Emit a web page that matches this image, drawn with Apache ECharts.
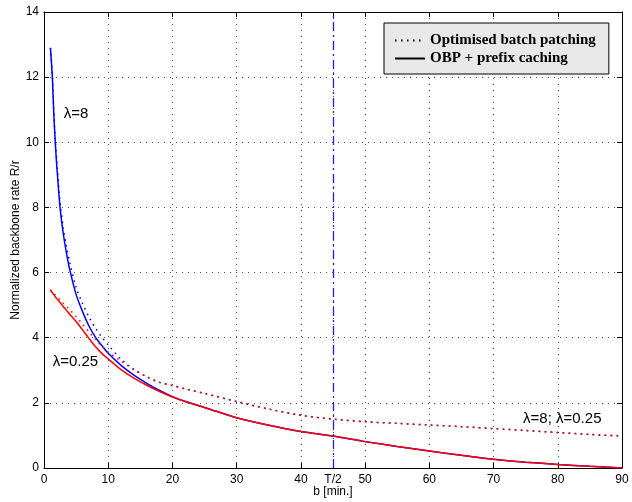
<!DOCTYPE html>
<html>
<head>
<meta charset="utf-8">
<script src="https://cdn.jsdelivr.net/npm/echarts@6/dist/echarts.min.js"></script>
<style>html,body{margin:0;padding:0;background:#fff;}#c{width:632px;height:502px;}</style>
</head>
<body>
<div id="c"></div>
<script>
// block sizes b [min.]
var bValues = [1,1.3,1.5,1.75,2,2.5,3,3.5,4,5,6,7,8,9,10,12,14,16,18,20,22,25,30,35,40,45,50,55,60,65,70,75,80,85,90];
// lambda = 8, OBP + prefix caching (solid blue)
var pcHigh  = [12.9,12.0,11.0,10.0,9.25,8.0,7.2,6.6,6.1,5.33,4.8,4.36,4.02,3.76,3.52,3.15,2.85,2.6,2.38,2.19,2.04,1.86,1.54,1.31,1.12,0.98,0.81,0.66,0.52,0.39,0.27,0.18,0.11,0.05,0];
// lambda = 8, optimised batch patching (dotted blue)
var obpHigh = [12.9,12.05,11.1,10.1,9.4,8.15,7.38,6.8,6.32,5.55,5.05,4.64,4.3,4.02,3.78,3.34,3.03,2.8,2.63,2.53,2.43,2.29,2.04,1.81,1.62,1.5,1.42,1.37,1.32,1.27,1.21,1.15,1.09,1.03,0.98];
// lambda = 0.25, OBP + prefix caching (solid red)
var pcLow   = [5.45,5.38,5.33,5.26,5.2,5.08,4.96,4.84,4.72,4.5,4.24,3.98,3.73,3.52,3.35,3.02,2.76,2.54,2.35,2.18,2.04,1.86,1.54,1.31,1.12,0.98,0.81,0.66,0.52,0.39,0.27,0.18,0.11,0.05,0];
// lambda = 0.25, optimised batch patching (dotted red)
var obpLow  = [5.47,5.41,5.37,5.31,5.26,5.16,5.06,4.96,4.86,4.65,4.42,4.18,3.95,3.74,3.56,3.28,3.02,2.8,2.63,2.53,2.43,2.29,2.04,1.81,1.62,1.5,1.42,1.37,1.32,1.27,1.21,1.15,1.09,1.03,0.98];
var xTickValues = [0,10,20,30,40,45,50,60,70,80,90];
var halfT = 45;
var legendNames = ['Optimised batch patching','OBP + prefix caching'];

function pairs(ys){ return bValues.map(function(b,i){ return [b, ys[i]]; }); }

var dotted = [1.5,4.5];
var chart = echarts.init(document.getElementById('c'), null, {renderer:'canvas'});
var baseFont = 'Liberation Sans, Arial, Helvetica, sans-serif';
chart.setOption({
  animation:false,
  backgroundColor:'#fff',
  grid:{left:44,right:10,top:12,bottom:34,containLabel:false,outerBoundsMode:'none'},
  legend:{
    orient:'vertical', left:384, top:23, padding:[10,13,8,10],
    backgroundColor:'#e8e8e8', borderColor:'#000', borderWidth:1, borderRadius:0,
    itemWidth:30, itemHeight:14, itemGap:3,
    itemStyle:{color:'rgba(0,0,0,0)', borderWidth:0, opacity:0},
    data:legendNames,
    textStyle:{fontFamily:'Liberation Serif, Times New Roman, serif', fontWeight:'bold', fontSize:15, color:'#000'}
  },
  xAxis:[{
    type:'value', min:0, max:90, position:'bottom',
    name:'b [min.]', nameLocation:'middle', nameGap:18, nameMoveOverlap:false,
    nameTextStyle:{fontFamily:baseFont, fontSize:12, color:'#000'},
    axisLine:{show:true, onZero:false, lineStyle:{color:'#000', width:1}},
    axisTick:{show:true, inside:true, length:5, customValues:xTickValues, lineStyle:{color:'#000'}},
    axisLabel:{customValues:xTickValues, fontFamily:baseFont, fontSize:12, color:'#000', margin:6,
      formatter:function(v){ return v===halfT ? 'T/2' : String(v); }},
    splitLine:{show:true, lineStyle:{color:'#555', type:[1,5], width:1}}
  },{
    type:'value', min:0, max:90, position:'top',
    axisLine:{show:true, onZero:false, lineStyle:{color:'#000', width:1}},
    axisTick:{show:true, inside:true, length:5, customValues:xTickValues, lineStyle:{color:'#000'}},
    axisLabel:{show:false}, splitLine:{show:false}
  }],
  yAxis:[{
    type:'value', min:0, max:14, interval:2, position:'left',
    name:'Normalized backbone rate R/r', nameLocation:'middle', nameGap:22, nameMoveOverlap:false,
    nameTextStyle:{fontFamily:baseFont, fontSize:12, color:'#000'},
    axisLine:{show:true, onZero:false, lineStyle:{color:'#000', width:1}},
    axisTick:{show:true, inside:true, length:5, lineStyle:{color:'#000'}},
    axisLabel:{fontFamily:baseFont, fontSize:12, color:'#000', margin:5},
    splitLine:{show:true, lineStyle:{color:'#555', type:[1,5], width:1}}
  },{
    type:'value', min:0, max:14, interval:2, position:'right',
    axisLine:{show:true, onZero:false, lineStyle:{color:'#000', width:1}},
    axisTick:{show:true, inside:true, length:5, lineStyle:{color:'#000'}},
    axisLabel:{show:false}, splitLine:{show:false}
  }],
  series:[
    {name:legendNames[0], type:'line', data:[], symbol:'none', lineStyle:{color:'#000', width:1.2, type:dotted}, itemStyle:{color:'#000'}},
    {name:legendNames[1], type:'line', data:[], symbol:'none', lineStyle:{color:'#000', width:1.2}, itemStyle:{color:'#000'}},
    {name:'obp8', type:'line', data:pairs(obpHigh), symbol:'none', smooth:0.3, lineStyle:{color:'#0000ff', width:1.5, type:dotted}, z:2},
    {name:'pc8', type:'line', data:pairs(pcHigh), symbol:'none', smooth:0.3, lineStyle:{color:'#0000ff', width:1.5}, z:3},
    {name:'obp025', type:'line', data:pairs(obpLow), symbol:'none', smooth:0.3, lineStyle:{color:'#ff0000', width:1.5, type:dotted}, z:4},
    {name:'pc025', type:'line', data:pairs(pcLow), symbol:'none', smooth:0.3, lineStyle:{color:'#ff0000', width:1.5}, z:5,
      markLine:{silent:true, symbol:'none', label:{show:false}, z:6,
        lineStyle:{color:'#2020ff', width:1.3, type:[9,4,2,4], opacity:1}, data:[{xAxis:halfT}]},
      markPoint:{silent:true, symbol:'circle', symbolSize:0,
        label:{show:true, position:'inside', color:'#000', fontFamily:baseFont, fontSize:15},
        data:[
          {coord:[5,10.87], label:{formatter:'λ=8'}},
          {coord:[4.9,3.27], label:{formatter:'λ=0.25'}},
          {coord:[80.7,1.52], label:{formatter:'λ=8; λ=0.25'}}
        ]}}
  ]
});
</script>
</body>
</html>
